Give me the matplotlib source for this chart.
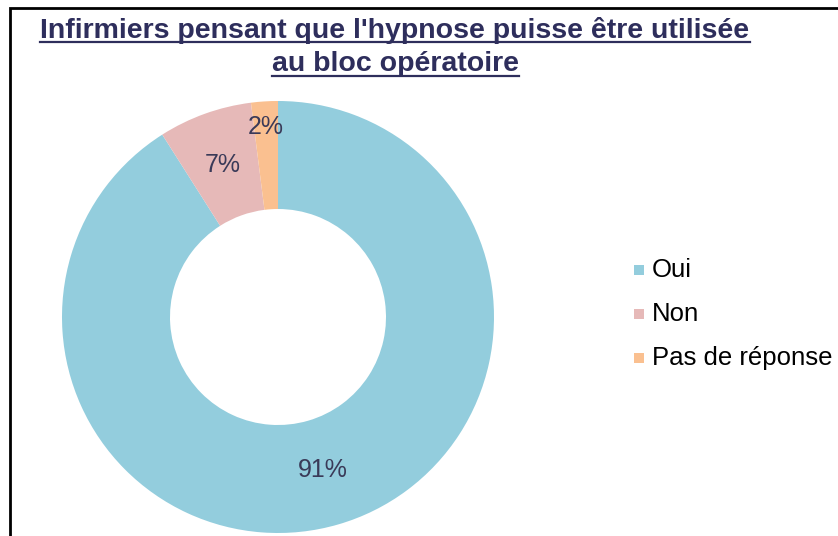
import numpy as np
import matplotlib.pyplot as plt
from matplotlib.patches import Rectangle
from matplotlib.lines import Line2D

labels = ["Oui", "Non", "Pas de réponse"]
values = [91, 7, 2]
colors = ["#93CDDD", "#E6B9B8", "#FAC090"]
title_lines = ["Infirmiers pensant que l'hypnose puisse être utilisée",
               "au bloc opératoire"]

W, H = 838, 536
fig = plt.figure(figsize=(W / 100, H / 100), dpi=100)
fig.patch.set_facecolor("white")

# frame (cut at right and bottom like the screenshot)
fig.patches.append(Rectangle((10 / W, -0.05), 1.0, 1 - 8 / H + 0.05,
                             transform=fig.transFigure, fill=False,
                             edgecolor="black", linewidth=2))

cx, cy, r = 278, 317, 216
ax = fig.add_axes([(cx - r) / W, (H - cy - r) / H, 2 * r / W, 2 * r / H])
wedges, _ = ax.pie(values, colors=colors, startangle=90, counterclock=False,
                   radius=1, wedgeprops=dict(width=0.5, linewidth=0))
ax.set_xlim(-1, 1)
ax.set_ylim(-1, 1)
ax.set_aspect("equal")
ax.axis("off")

txt_color = "#3A3A58"
label_r = [0.74, 0.75, 0.88]
for w, v, lr in zip(wedges, values, label_r):
    mid = np.deg2rad((w.theta1 + w.theta2) / 2)
    ax.text(lr * np.cos(mid), lr * np.sin(mid), f"{v}%", ha="center",
            va="center", fontsize=18, color=txt_color,
            family=["Liberation Sans", "DejaVu Sans"])

# legend
for i, (lab, c) in enumerate(zip(labels, colors)):
    y = 1 - (270 + i * 44) / H
    fig.patches.append(Rectangle((634 / W, y - 5 / H), 10 / W, 10 / H,
                                 transform=fig.transFigure, facecolor=c,
                                 edgecolor="none"))
    fig.text(652 / W, y, lab, ha="left", va="center", fontsize=18.5,
             color="black", family=["Liberation Sans", "DejaVu Sans"])

# underlined title
title_texts = []
for i, line in enumerate(title_lines):
    t = fig.text(395 / W, 1 - (30 + i * 34) / H, line, ha="center",
                 va="center", fontsize=20.5, fontweight="bold",
                 color="#2E2E5C",
                 family=["Liberation Sans Narrow", "Liberation Sans", "DejaVu Sans"])
    title_texts.append(t)

fig.canvas.draw()
renderer = fig.canvas.get_renderer()
for t in title_texts:
    bb = t.get_window_extent(renderer).transformed(fig.transFigure.inverted())
    yl = bb.y0 + 1.5 / H
    fig.lines.append(Line2D([bb.x0, bb.x1], [yl, yl], transform=fig.transFigure,
                            color="#2E2E5C", linewidth=1.6))

fig.savefig("out.png", dpi=100)
